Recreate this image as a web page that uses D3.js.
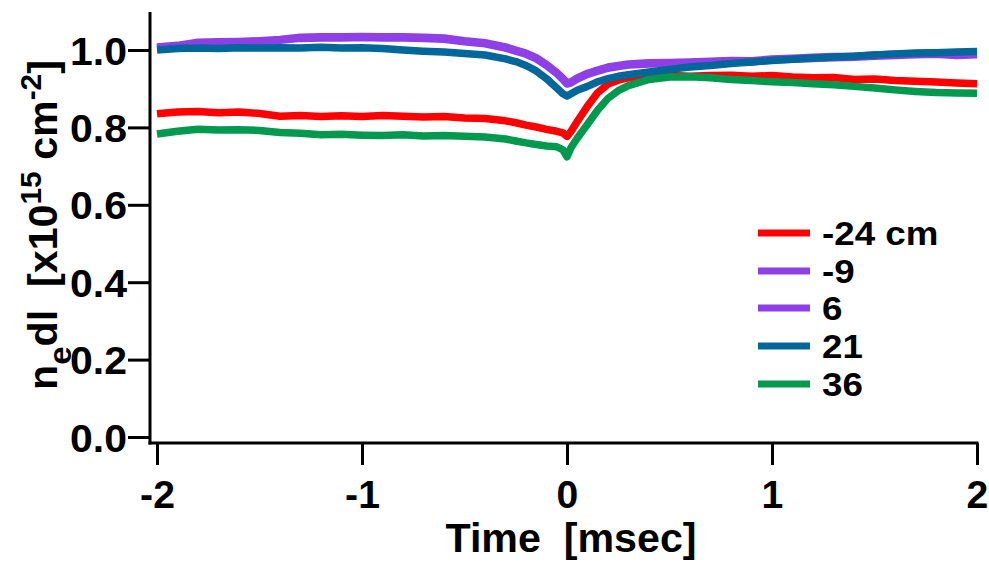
<!DOCTYPE html>
<html>
<head>
<meta charset="utf-8">
<script src="https://cdn.jsdelivr.net/npm/d3@7"></script>
<style>
  body { margin: 0; background: #fff; }
  svg { display: block; }
  text { font-family: "Liberation Sans", Arial, Helvetica, sans-serif; font-weight: bold; fill: #000; white-space: pre; }
</style>
</head>
<body>
<svg width="989" height="566"></svg>
<script>
// Data (time in msec, ne dl in 1e15 cm^-2)
const time = [-2.0, -1.9, -1.8, -1.7, -1.6, -1.5, -1.4, -1.3, -1.2, -1.1, -1.0, -0.9, -0.8, -0.7, -0.6, -0.5, -0.4, -0.3,
  -0.25, -0.2, -0.15, -0.1, -0.05, -0.02, 0, 0.02, 0.05, 0.1, 0.15, 0.2, 0.25, 0.3,
  0.4, 0.5, 0.6, 0.7, 0.8, 0.9, 1.0, 1.1, 1.2, 1.3, 1.4, 1.5, 1.6, 1.7, 1.8, 1.9, 2.0];

const seriesM24 = [0.835, 0.840, 0.841, 0.838, 0.840, 0.836, 0.829, 0.831, 0.828, 0.830, 0.828, 0.831, 0.829, 0.827, 0.828, 0.824, 0.823, 0.817,
  0.812, 0.806, 0.801, 0.795, 0.790, 0.786, 0.777, 0.790, 0.815, 0.855, 0.890, 0.912, 0.922, 0.928,
  0.931, 0.934, 0.932, 0.934, 0.935, 0.932, 0.934, 0.930, 0.928, 0.929, 0.924, 0.925, 0.921, 0.919, 0.917, 0.915, 0.913];
const seriesM9 = [1.006, 1.010, 1.017, 1.018, 1.020, 1.021, 1.025, 1.030, 1.031, 1.031, 1.032, 1.031, 1.031, 1.030, 1.028, 1.021, 1.016, 1.005,
  0.997, 0.989, 0.977, 0.960, 0.939, 0.924, 0.912, 0.915, 0.925, 0.937, 0.945, 0.953, 0.957, 0.961,
  0.964, 0.965, 0.966, 0.968, 0.970, 0.969, 0.974, 0.976, 0.978, 0.980, 0.981, 0.984, 0.986, 0.988, 0.989, 0.986, 0.988];
const series6 = [1.008, 1.012, 1.020, 1.021, 1.022, 1.024, 1.027, 1.033, 1.034, 1.034, 1.035, 1.034, 1.034, 1.033, 1.031, 1.024, 1.019, 1.008,
  1.000, 0.992, 0.980, 0.963, 0.942, 0.927, 0.915, 0.918, 0.928, 0.940, 0.948, 0.956, 0.960, 0.964,
  0.967, 0.968, 0.969, 0.971, 0.973, 0.972, 0.977, 0.979, 0.981, 0.983, 0.984, 0.987, 0.989, 0.991, 0.992, 0.989, 0.991];
const series21 = [1.000, 1.004, 1.005, 1.004, 1.006, 1.005, 1.006, 1.005, 1.007, 1.005, 1.006, 1.004, 1.000, 0.997, 0.995, 0.991, 0.987, 0.977,
  0.970, 0.960, 0.946, 0.926, 0.902, 0.887, 0.881, 0.887, 0.896, 0.906, 0.918, 0.926, 0.932, 0.936,
  0.943, 0.950, 0.956, 0.960, 0.965, 0.969, 0.973, 0.976, 0.979, 0.982, 0.984, 0.987, 0.990, 0.992, 0.993, 0.995, 0.996];
const series36 = [0.783, 0.790, 0.795, 0.793, 0.794, 0.792, 0.787, 0.785, 0.781, 0.782, 0.780, 0.779, 0.781, 0.778, 0.779, 0.777, 0.775, 0.770,
  0.765, 0.760, 0.756, 0.752, 0.750, 0.742, 0.724, 0.748, 0.772, 0.808, 0.845, 0.875, 0.895, 0.908,
  0.924, 0.930, 0.931, 0.928, 0.924, 0.921, 0.918, 0.916, 0.913, 0.910, 0.906, 0.902, 0.897, 0.893, 0.890, 0.889, 0.888];

const legendLabels = ["-24 cm", "-9", "6", "21", "36"];
const colors = ["#ff0000", "#8e3fe6", "#8e3fe6", "#00679a", "#00994f"];
const allSeries = [seriesM24, seriesM9, series6, series21, series36];

const xTicks = [-2, -1, 0, 1, 2];
const yTicks = [0, 0.2, 0.4, 0.6, 0.8, 1.0];

const svg = d3.select("svg");

const x = d3.scaleLinear().domain([-2, 2]).range([157, 977]);
const y = d3.scaleLinear().domain([0, 1.1]).range([437, 11.3]);

const axisX = 150;
const axisY = 443;

// series
const line = d3.line()
  .x((d, i) => x(time[i]))
  .y((d) => y(d));

svg.append("g")
  .selectAll("path")
  .data(allSeries)
  .enter()
  .append("path")
  .attr("d", line)
  .attr("fill", "none")
  .attr("stroke", (d, i) => colors[i])
  .attr("stroke-width", 7.5)
  .attr("stroke-linejoin", "round");

// axes
const gy = svg.append("g")
  .attr("transform", `translate(${axisX},0)`)
  .call(d3.axisLeft(y).tickValues(yTicks).tickSize(22).tickSizeOuter(0).tickFormat(d3.format(".1f")));
gy.select(".domain").remove();
gy.selectAll(".tick line").attr("stroke-width", 3);
gy.selectAll(".tick text")
  .attr("x", -22)
  .attr("dy", "0.36em")
  .attr("transform", "scale(1.05,1)")
  .style("font-size", "39px");

const gx = svg.append("g")
  .attr("transform", `translate(0,${axisY})`)
  .call(d3.axisBottom(x).tickValues(xTicks).tickSize(22).tickSizeOuter(0).tickFormat((d) => String(d)));
gx.select(".domain").remove();
gx.selectAll(".tick line").attr("stroke-width", 3);
gx.selectAll(".tick text")
  .attr("y", 38)
  .attr("dy", "0.71em")
  .attr("transform", "scale(1.03,1)")
  .style("font-size", "38px");

svg.append("line")
  .attr("x1", axisX).attr("x2", axisX)
  .attr("y1", 12).attr("y2", axisY + 1.5)
  .attr("stroke", "#000").attr("stroke-width", 3);
svg.append("line")
  .attr("x1", axisX - 1.5).attr("x2", 978.5)
  .attr("y1", axisY).attr("y2", axisY)
  .attr("stroke", "#000").attr("stroke-width", 3);

// axis titles
svg.append("text")
  .attr("transform", "translate(571,552) scale(1.03,1)")
  .attr("text-anchor", "middle")
  .style("font-size", "40px")
  .text("Time  [msec]");

const yt = svg.append("text")
  .attr("transform", "translate(57,225) rotate(-90) scale(1.03,1)")
  .attr("text-anchor", "middle")
  .style("font-size", "40px");
yt.append("tspan").text("n");
yt.append("tspan").attr("dy", 14).style("font-size", "32px").text("e");
yt.append("tspan").attr("dy", -14).text("dl  [x10");
yt.append("tspan").attr("dy", -16).style("font-size", "29px").text("15");
yt.append("tspan").attr("dy", 16).text(" cm");
yt.append("tspan").attr("dy", -16).style("font-size", "29px").text("-2");
yt.append("tspan").attr("dy", 16).text("]");

// legend
const legendY = [233, 271, 308, 346, 384];
const legend = svg.append("g")
  .selectAll("g")
  .data(legendLabels)
  .enter()
  .append("g")
  .attr("transform", (d, i) => `translate(758,${legendY[i]})`);
legend.append("line")
  .attr("x1", 0).attr("x2", 52)
  .attr("stroke", (d, i) => colors[i])
  .attr("stroke-width", 7);
legend.append("text")
  .attr("transform", "translate(64,0) scale(1.08,1)")
  .attr("dy", "0.36em")
  .style("font-size", "34px")
  .text((d) => d);
</script>
</body>
</html>
